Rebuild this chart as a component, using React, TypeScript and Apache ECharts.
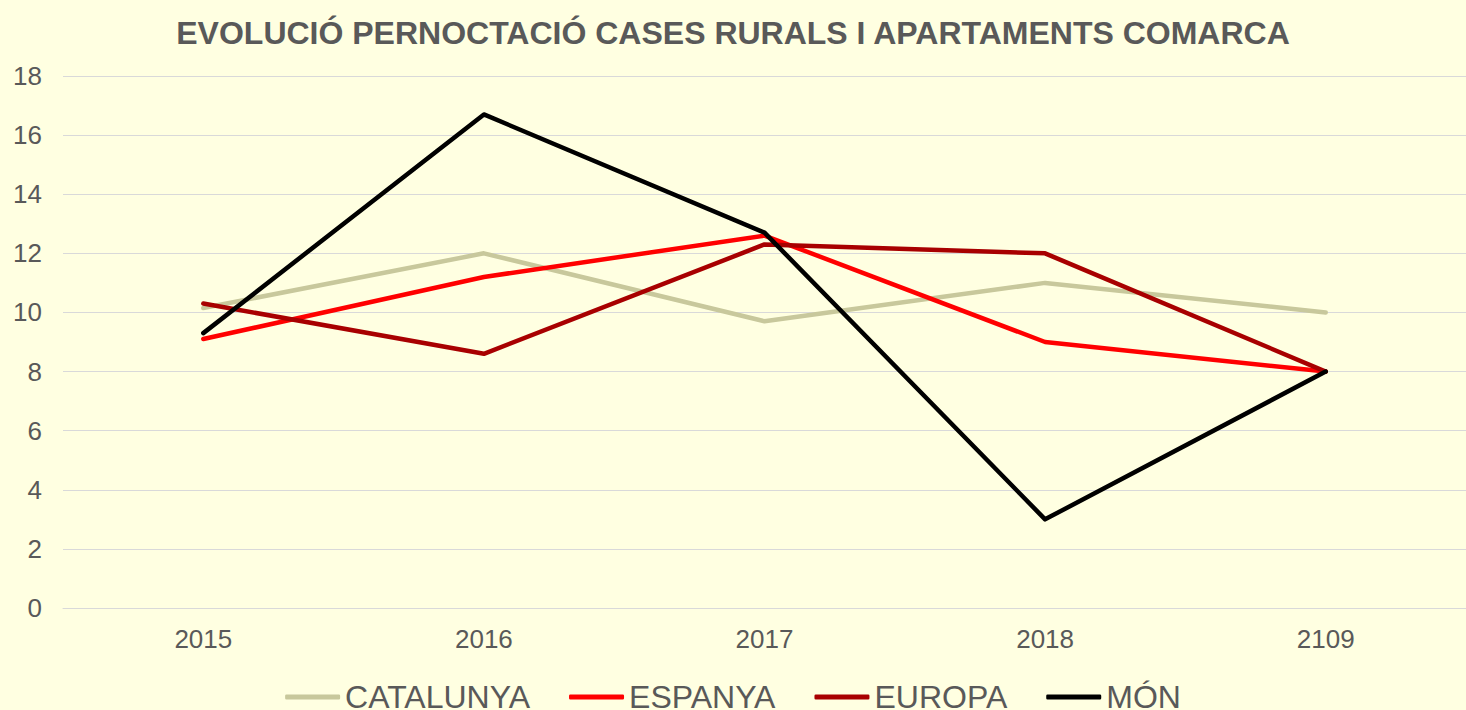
import React, { useEffect, useRef } from "react";
import * as echarts from "echarts";

const titleText = "EVOLUCIÓ PERNOCTACIÓ CASES RURALS I APARTAMENTS COMARCA";
const years = ["2015", "2016", "2017", "2018", "2109"];
const seriesNames = ["CATALUNYA", "ESPANYA", "EUROPA", "MÓN"];
const catalunya = [10.15, 12.0, 9.7, 11.0, 10.0];
const espanya = [9.1, 11.2, 12.6, 9.0, 8.0];
const europa = [10.3, 8.6, 12.3, 12.0, 8.0];
const mon = [9.3, 16.7, 12.7, 3.0, 8.0];
const colors = ["#C8C89C", "#FF0000", "#A80000", "#000000"];

const FONT = "'Liberation Sans', Arial, sans-serif";

export default function App() {
  const ref = useRef<HTMLDivElement>(null);
  useEffect(() => {
    if (!ref.current) return;
    const chart = echarts.init(ref.current, null, { renderer: "svg" });
    const values = [catalunya, espanya, europa, mon];
    chart.setOption({
      animation: false,
      backgroundColor: "#FFFFE1",
      title: {
        text: titleText,
        left: "center",
        top: 12,
        textStyle: {
          fontFamily: FONT,
          fontWeight: "bold",
          fontSize: 32,
          color: "#595959",
        },
      },
      legend: {
        data: seriesNames,
        left: "center",
        top: 675,
        icon: "roundRect",
        itemWidth: 55,
        itemHeight: 5,
        itemGap: 39,
        textStyle: {
          fontFamily: FONT,
          fontSize: 32,
          lineHeight: 34,
          color: "#595959",
        },
      },
      grid: {
        left: 63,
        top: 76,
        width: 1410,
        height: 532,
        containLabel: false,
      },
      xAxis: {
        type: "category",
        data: years,
        boundaryGap: true,
        axisLine: { lineStyle: { color: "#D9D9D9", width: 1 } },
        axisTick: { show: false },
        axisLabel: {
          fontFamily: FONT,
          fontSize: 26,
          color: "#595959",
          margin: 18,
        },
      },
      yAxis: {
        type: "value",
        min: 0,
        max: 18,
        interval: 2,
        axisLine: { show: false },
        axisTick: { show: false },
        splitLine: { lineStyle: { color: "#D9D9D9", width: 1 } },
        axisLabel: {
          fontFamily: FONT,
          fontSize: 26,
          color: "#595959",
          margin: 21,
        },
      },
      series: seriesNames.map((name, i) => ({
        name,
        type: "line",
        data: values[i],
        symbol: "none",
        color: colors[i],
        lineStyle: { color: colors[i], width: 4.5, cap: "round", join: "round" },
        z: 2 + i,
      })),
    });
    return () => chart.dispose();
  }, []);
  return (
    <div
      ref={ref}
      style={{ position: "fixed", left: 0, top: 0, width: 1466, height: 710 }}
    />
  );
}
